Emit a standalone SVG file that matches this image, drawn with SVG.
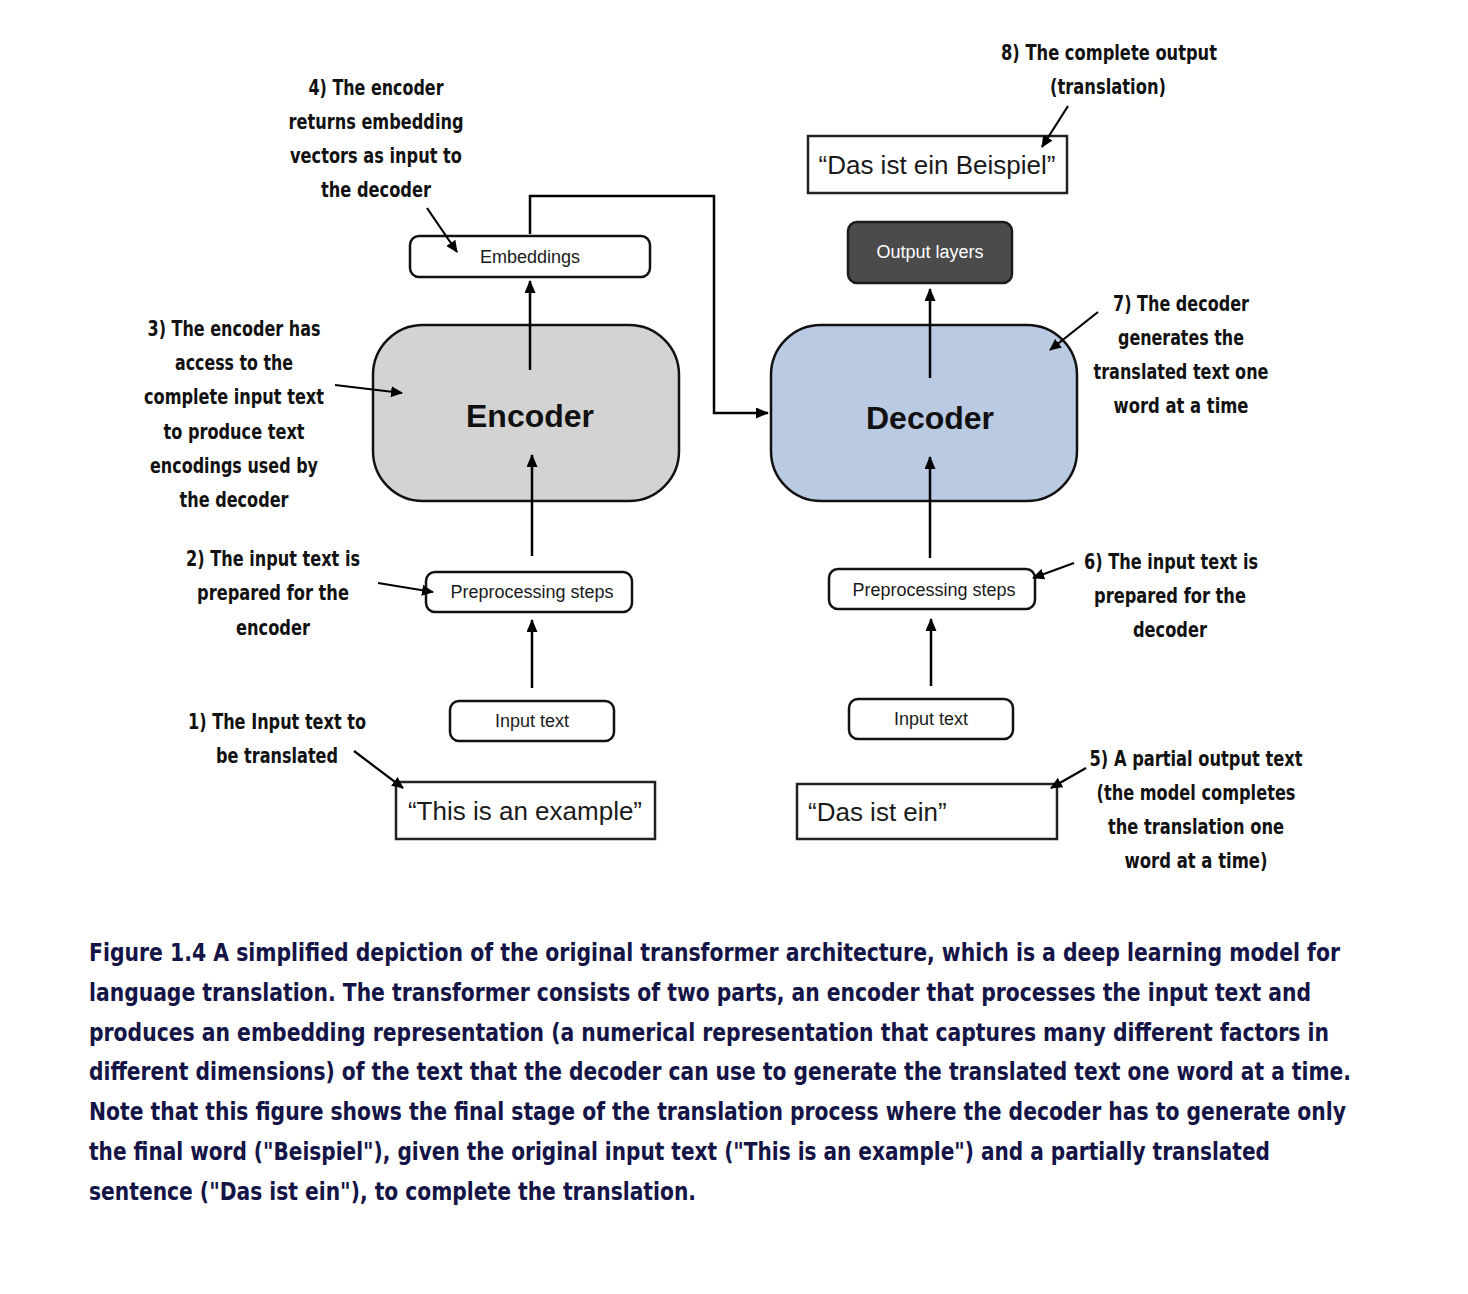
<svg xmlns="http://www.w3.org/2000/svg" width="1468" height="1294" viewBox="0 0 1468 1294">
<defs>
<marker id="ah" markerUnits="userSpaceOnUse" markerWidth="13" markerHeight="11" refX="12" refY="5.5" orient="auto" viewBox="0 0 13 11"><path d="M0,0 L13,5.5 L0,11 z" fill="#000"/></marker>
<marker id="ah2" markerUnits="userSpaceOnUse" markerWidth="12" markerHeight="11" refX="11" refY="5.5" orient="auto" viewBox="0 0 12 11"><path d="M0,0 L12,5.5 L0,11 z" fill="#000"/></marker>
</defs>
<style>
.box{fill:#fff;stroke:#111;stroke-width:2.5}
.sq{fill:#fff;stroke:#222;stroke-width:2.5}
.lbl{font-family:"Liberation Sans",Arial,sans-serif;font-size:18px;fill:#1a1a1a;text-anchor:middle}
.big{font-family:"Liberation Sans",Arial,sans-serif;font-size:32px;font-weight:bold;fill:#111;text-anchor:middle}
.quote{font-family:"Liberation Sans",Arial,sans-serif;font-size:26px;fill:#1a1a1a}
.ann{font-family:"Liberation Sans Narrow","DejaVu Sans Condensed","Roboto Condensed",sans-serif;font-stretch:condensed;font-weight:bold;font-size:22px;fill:#111;text-anchor:middle}
.cap{font-family:"Liberation Sans Narrow","DejaVu Sans Condensed","Roboto Condensed",sans-serif;font-stretch:condensed;font-weight:bold;font-size:24px;fill:#141446}
.con{fill:none;stroke:#000;stroke-width:2.5;marker-end:url(#ah)}
.pt{fill:none;stroke:#000;stroke-width:2.2;marker-end:url(#ah2)}
</style>
<rect width="1468" height="1294" fill="#fff"/>

<g id="embeddings"><rect class="box" x="410" y="236" width="240" height="41" rx="9"/><text class="lbl" x="530" y="263">Embeddings</text></g>
<g id="encoder"><rect x="373" y="325" width="306" height="176" rx="50" fill="#d3d3d3" stroke="#111" stroke-width="2.5"/><text class="big" x="530" y="427">Encoder</text></g>
<g id="preproc-enc"><rect class="box" x="426" y="572" width="206" height="40" rx="9"/><text class="lbl" x="532" y="598">Preprocessing steps</text></g>
<g id="input-enc"><rect class="box" x="450" y="701" width="164" height="40" rx="9"/><text class="lbl" x="532" y="727">Input text</text></g>
<g id="example"><rect class="sq" x="396" y="782" width="259" height="57"/><text class="quote" x="525" y="820" text-anchor="middle">“This is an example”</text></g>

<g id="beispiel"><rect class="sq" x="808" y="136" width="259" height="57"/><text class="quote" x="937" y="174" text-anchor="middle">“Das ist ein Beispiel”</text></g>
<g id="output-layers"><rect x="848" y="222" width="164" height="61" rx="9" fill="#4b4b4b" stroke="#1a1a1a" stroke-width="2.5"/><text class="lbl" x="930" y="258" style="fill:#fff">Output layers</text></g>
<g id="decoder"><rect x="771" y="325" width="306" height="176" rx="50" fill="#b9cae2" stroke="#111" stroke-width="2.5"/><text class="big" x="930" y="429">Decoder</text></g>
<g id="preproc-dec"><rect class="box" x="829" y="569" width="206" height="40" rx="9"/><text class="lbl" x="934" y="596">Preprocessing steps</text></g>
<g id="input-dec"><rect class="box" x="849" y="699" width="164" height="40" rx="9"/><text class="lbl" x="931" y="725">Input text</text></g>
<g id="das-ist-ein"><rect class="sq" x="797" y="784" width="260" height="55"/><text class="quote" x="808" y="821">“Das ist ein”</text></g>

<g id="connectors">
<path class="con" d="M530,370 V281"/>
<path class="con" d="M530,234 V196 H714 V413 H768"/>
<path class="con" d="M532,556 V455"/>
<path class="con" d="M532,688 V620"/>
<path class="con" d="M930,378 V289"/>
<path class="con" d="M930,558 V457"/>
<path class="con" d="M931,686 V619"/>
<path class="pt" d="M427,208 L457,252"/>
<path class="pt" d="M335,385 L402,393"/>
<path class="pt" d="M378,583 L433,592"/>
<path class="pt" d="M354,751 L403,788"/>
<path class="pt" d="M1068,106 L1042,147"/>
<path class="pt" d="M1098,312 L1050,350"/>
<path class="pt" d="M1074,563 L1033,578"/>
<path class="pt" d="M1086,768 L1051,788"/>
</g>

<g id="note4">
<text class="ann" x="376" y="95" textLength="135" lengthAdjust="spacingAndGlyphs">4) The encoder</text>
<text class="ann" x="376" y="129" textLength="175" lengthAdjust="spacingAndGlyphs">returns embedding</text>
<text class="ann" x="376" y="163" textLength="172" lengthAdjust="spacingAndGlyphs">vectors as input to</text>
<text class="ann" x="376" y="197" textLength="110" lengthAdjust="spacingAndGlyphs">the decoder</text>
</g>
<g id="note3">
<text class="ann" x="234" y="336" textLength="173" lengthAdjust="spacingAndGlyphs">3) The encoder has</text>
<text class="ann" x="234" y="370" textLength="118" lengthAdjust="spacingAndGlyphs">access to the</text>
<text class="ann" x="234" y="404" textLength="180" lengthAdjust="spacingAndGlyphs">complete input text</text>
<text class="ann" x="234" y="439" textLength="141" lengthAdjust="spacingAndGlyphs">to produce text</text>
<text class="ann" x="234" y="473" textLength="168" lengthAdjust="spacingAndGlyphs">encodings used by</text>
<text class="ann" x="234" y="507" textLength="109" lengthAdjust="spacingAndGlyphs">the decoder</text>
</g>
<g id="note2">
<text class="ann" x="273" y="566" textLength="174" lengthAdjust="spacingAndGlyphs">2) The input text is</text>
<text class="ann" x="273" y="600" textLength="152" lengthAdjust="spacingAndGlyphs">prepared for the</text>
<text class="ann" x="273" y="635" textLength="74" lengthAdjust="spacingAndGlyphs">encoder</text>
</g>
<g id="note1">
<text class="ann" x="277" y="729" textLength="178" lengthAdjust="spacingAndGlyphs">1) The Input text to</text>
<text class="ann" x="277" y="763" textLength="122" lengthAdjust="spacingAndGlyphs">be translated</text>
</g>
<g id="note8">
<text class="ann" x="1109" y="60" textLength="216" lengthAdjust="spacingAndGlyphs">8) The complete output</text>
<text class="ann" x="1108" y="94" textLength="116" lengthAdjust="spacingAndGlyphs">(translation)</text>
</g>
<g id="note7">
<text class="ann" x="1181" y="311" textLength="136" lengthAdjust="spacingAndGlyphs">7) The decoder</text>
<text class="ann" x="1181" y="345" textLength="126" lengthAdjust="spacingAndGlyphs">generates the</text>
<text class="ann" x="1181" y="379" textLength="175" lengthAdjust="spacingAndGlyphs">translated text one</text>
<text class="ann" x="1181" y="413" textLength="135" lengthAdjust="spacingAndGlyphs">word at a time</text>
</g>
<g id="note6">
<text class="ann" x="1171" y="569" textLength="174" lengthAdjust="spacingAndGlyphs">6) The input text is</text>
<text class="ann" x="1170" y="603" textLength="152" lengthAdjust="spacingAndGlyphs">prepared for the</text>
<text class="ann" x="1170" y="637" textLength="74" lengthAdjust="spacingAndGlyphs">decoder</text>
</g>
<g id="note5">
<text class="ann" x="1196" y="766" textLength="213" lengthAdjust="spacingAndGlyphs">5) A partial output text</text>
<text class="ann" x="1196" y="800" textLength="199" lengthAdjust="spacingAndGlyphs">(the model completes</text>
<text class="ann" x="1196" y="834" textLength="176" lengthAdjust="spacingAndGlyphs">the translation one</text>
<text class="ann" x="1196" y="868" textLength="143" lengthAdjust="spacingAndGlyphs">word at a time)</text>
</g>

<g id="caption">
<text class="cap" x="89" y="961" textLength="1251" lengthAdjust="spacingAndGlyphs">Figure 1.4 A simplified depiction of the original transformer architecture, which is a deep learning model for</text>
<text class="cap" x="89" y="1001" textLength="1222" lengthAdjust="spacingAndGlyphs">language translation. The transformer consists of two parts, an encoder that processes the input text and</text>
<text class="cap" x="89" y="1041" textLength="1240" lengthAdjust="spacingAndGlyphs">produces an embedding representation (a numerical representation that captures many different factors in</text>
<text class="cap" x="89" y="1080" textLength="1262" lengthAdjust="spacingAndGlyphs">different dimensions) of the text that the decoder can use to generate the translated text one word at a time.</text>
<text class="cap" x="89" y="1120" textLength="1257" lengthAdjust="spacingAndGlyphs">Note that this figure shows the final stage of the translation process where the decoder has to generate only</text>
<text class="cap" x="89" y="1160" textLength="1181" lengthAdjust="spacingAndGlyphs">the final word ("Beispiel"), given the original input text ("This is an example") and a partially translated</text>
<text class="cap" x="89" y="1200" textLength="607" lengthAdjust="spacingAndGlyphs">sentence ("Das ist ein"), to complete the translation.</text>
</g>
</svg>
